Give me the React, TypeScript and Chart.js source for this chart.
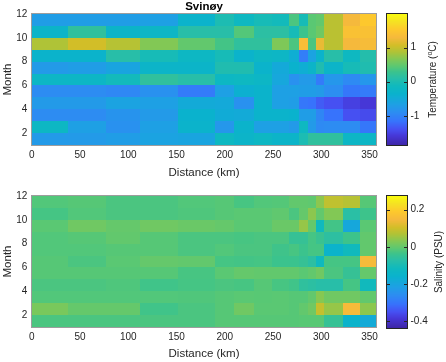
import React, { useEffect, useRef } from 'react';
import { Chart, registerables } from 'chart.js';
Chart.register(...registerables);

const FONT = '"Liberation Sans", Arial, Helvetica, sans-serif';
const AXIS_COLOR = '#262626';

// Cell edges
const distanceEdges = [0, 38, 77, 112, 152, 190, 210, 230, 249, 267, 277, 286, 295, 303, 322, 340, 357];
const monthEdges = [1, 2, 3, 4, 5, 6, 7, 8, 9, 10, 11, 12];

// Tick labels
const xTicks = [0, 50, 100, 150, 200, 250, 300, 350];
const yTicks = [2, 4, 6, 8, 10, 12];
const tempTicks = [-1, 0, 1];
const salTicks = [-0.4, -0.2, 0, 0.2];

// Colour limits
const tempRange = [-1.85, 1.98];
const salRange = [-0.437, 0.274];

// Temperature anomaly (°C): rows month 1 -> 11, columns along distanceEdges
const temperature = [
  [-0.74, -0.74, -0.70, -0.62, -0.59, -0.17, -0.28, -0.20, -0.28, -0.28, -0.01, 0.18, 0.18, 0.18, -0.24, -0.24],
  [-0.20, -0.66, -0.85, -0.66, -0.32, -0.78, -0.32, -0.66, -0.66, -0.74, -0.17, -0.74, -0.93, -0.91, -0.91, -1.12],
  [-0.91, -0.91, -0.82, -0.74, -0.36, -0.47, -0.49, -0.32, -0.32, -0.36, -0.70, -0.70, -0.97, -1.16, -1.39, -1.43],
  [-0.74, -0.74, -0.62, -0.66, -0.49, -0.51, -0.85, -0.32, -0.66, -0.70, -1.12, -1.16, -1.31, -1.39, -1.51, -1.58],
  [-0.91, -0.91, -0.95, -0.85, -1.08, -0.66, -0.39, -0.32, -0.66, -0.66, -0.70, -0.70, -0.74, -0.89, -1.12, -1.08],
  [-0.24, -0.24, -0.09, 0.18, 0.10, -0.20, -0.17, -0.24, -0.55, -0.85, -0.74, -0.74, -1.08, -0.78, -0.93, -0.78],
  [-0.74, -0.70, -0.59, -0.28, -0.28, 0.03, 0.03, -0.32, -0.51, -0.36, -0.43, -0.28, 0.03, -0.28, -0.05, 0.03],
  [-0.32, -0.32, 0.10, -0.05, -0.20, -0.05, -0.32, -0.20, -0.24, -0.43, -1.05, -0.62, -0.32, 0.10, -0.17, 0.07],
  [0.87, 1.06, 0.91, 0.66, 0.49, 0.33, 0.18, 0.18, 0.64, 0.37, 1.37, 0.37, 1.21, 0.93, 1.29, 1.33],
  [-0.28, 0.18, -0.28, -0.24, 0.10, 0.10, 0.41, 0.14, 0.14, -0.05, 0.29, 0.45, 0.56, 0.93, 1.41, 1.41],
  [-0.70, -0.70, -0.70, -0.66, -0.32, 0.00, -0.17, -0.05, -0.09, 0.37, -0.05, 0.45, 0.49, 0.93, 1.29, 1.52],
];

// Salinity anomaly (PSU): rows month 1 -> 11
const salinity = [
  [-0.025, -0.025, -0.025, -0.025, -0.025, -0.014, -0.014, -0.014, -0.014, -0.014, -0.012, -0.012, -0.012, -0.05, -0.153, -0.185],
  [0.02, 0.0, 0.0, -0.035, -0.025, -0.014, 0.011, -0.010, -0.010, -0.014, -0.003, 0.011, 0.089, 0.046, 0.153, 0.037],
  [-0.018, -0.018, -0.018, -0.018, -0.02, -0.014, -0.010, -0.012, -0.010, -0.014, -0.014, -0.003, 0.032, 0.011, 0.011, -0.003],
  [-0.025, -0.025, -0.021, -0.035, -0.03, -0.025, -0.028, -0.014, -0.028, -0.035, -0.06, -0.067, -0.074, -0.074, -0.03, -0.113],
  [-0.014, -0.014, -0.014, -0.014, -0.028, -0.010, 0.0, -0.003, -0.003, -0.003, -0.010, -0.003, 0.011, -0.025, -0.05, 0.0],
  [-0.014, -0.025, -0.010, 0.0, -0.003, -0.03, -0.032, -0.03, -0.04, -0.042, -0.05, -0.067, -0.117, -0.03, -0.03, 0.153],
  [-0.018, -0.018, -0.014, -0.014, -0.025, -0.018, -0.025, -0.025, -0.036, -0.028, -0.04, -0.03, -0.03, -0.153, -0.115, -0.003],
  [-0.018, -0.014, -0.003, -0.014, -0.025, -0.025, -0.028, -0.025, -0.025, -0.05, -0.05, -0.03, -0.045, -0.065, -0.038, -0.003],
  [-0.010, 0.011, 0.0, 0.011, 0.005, 0.0, -0.010, -0.010, 0.005, 0.005, 0.046, 0.0, -0.117, -0.033, -0.195, -0.010],
  [-0.03, -0.018, -0.025, -0.025, -0.021, -0.014, -0.010, -0.010, -0.005, -0.025, 0.0, 0.037, -0.003, 0.029, -0.07, -0.038],
  [-0.018, -0.014, -0.025, -0.025, -0.018, -0.014, -0.028, -0.018, -0.016, -0.003, -0.003, -0.006, 0.037, 0.085, 0.075, -0.014],
];

// parula-like colormap anchors [t, r, g, b]
const PARULA: number[][] = [
  [0.0, 62, 38, 168],
  [0.07, 70, 55, 215],
  [0.12, 70, 80, 242],
  [0.18, 55, 115, 252],
  [0.245, 45, 140, 242],
  [0.31, 30, 160, 228],
  [0.39, 10, 178, 205],
  [0.45, 15, 185, 190],
  [0.51, 40, 190, 168],
  [0.56, 60, 195, 140],
  [0.6, 90, 200, 115],
  [0.655, 130, 200, 85],
  [0.71, 175, 195, 55],
  [0.76, 210, 190, 40],
  [0.82, 245, 185, 60],
  [0.88, 253, 200, 45],
  [0.94, 245, 225, 35],
  [1.0, 249, 251, 14],
];

function colorFor(v: number, range: number[]): string {
  let t = (v - range[0]) / (range[1] - range[0]);
  t = Math.max(0, Math.min(1, t));
  for (let i = 1; i < PARULA.length; i++) {
    const a = PARULA[i - 1];
    const b = PARULA[i];
    if (t <= b[0]) {
      const f = (t - a[0]) / (b[0] - a[0]);
      const r = Math.round(a[1] + (b[1] - a[1]) * f);
      const g = Math.round(a[2] + (b[2] - a[2]) * f);
      const bl = Math.round(a[3] + (b[3] - a[3]) * f);
      return `rgb(${r},${g},${bl})`;
    }
  }
  const l = PARULA[PARULA.length - 1];
  return `rgb(${l[1]},${l[2]},${l[3]})`;
}

function makeHeatmapPlugin(values: number[][], range: number[]) {
  return {
    id: 'heatmapCells',
    afterDatasetsDraw(chart: any) {
      const { ctx, chartArea, scales } = chart;
      const x = scales.x;
      const y = scales.y;
      ctx.save();
      for (let r = 0; r < values.length; r++) {
        const yTop = Math.round(y.getPixelForValue(monthEdges[r + 1]));
        const yBot = Math.round(y.getPixelForValue(monthEdges[r]));
        for (let c = 0; c < values[r].length; c++) {
          const x0 = Math.round(x.getPixelForValue(distanceEdges[c]));
          const x1 = Math.round(x.getPixelForValue(distanceEdges[c + 1]));
          ctx.fillStyle = colorFor(values[r][c], range);
          ctx.fillRect(x0, yTop, x1 - x0, yBot - yTop);
        }
      }
      const L = Math.round(chartArea.left);
      const R = Math.round(chartArea.right);
      const T = Math.round(chartArea.top);
      const B = Math.round(chartArea.bottom);
      ctx.strokeStyle = 'rgba(38,38,38,0.45)';
      ctx.lineWidth = 1;
      ctx.strokeRect(L - 0.5, T - 0.5, R - L + 1, B - T + 1);
      ctx.restore();
    },
  };
}

function makeColorbarPlugin(range: number[], ticks: number[], parts: { text: string; sup?: boolean }[], labelX: number) {
  return {
    id: 'colorbar',
    afterDraw(chart: any) {
      const { ctx, chartArea, scales } = chart;
      const y = scales.y;
      const L = Math.round(chartArea.left);
      const R = Math.round(chartArea.right);
      const T = Math.round(chartArea.top);
      const B = Math.round(chartArea.bottom);
      ctx.save();
      for (let py = T; py < B; py++) {
        const v = y.getValueForPixel(py + 0.5);
        ctx.fillStyle = colorFor(v, range);
        ctx.fillRect(L, py, R - L, 1);
      }
      ctx.strokeStyle = AXIS_COLOR;
      ctx.lineWidth = 1;
      ctx.strokeRect(L - 0.5, T - 0.5, R - L + 1, B - T + 1);
      ctx.beginPath();
      for (const t of ticks) {
        const py = Math.round(y.getPixelForValue(t)) + 0.5;
        ctx.moveTo(R - 3, py);
        ctx.lineTo(R, py);
        ctx.moveTo(L, py);
        ctx.lineTo(L + 3, py);
      }
      ctx.stroke();
      // rotated label, reading bottom-to-top
      const normal = `10px ${FONT}`;
      const small = `7px ${FONT}`;
      let total = 0;
      for (const p of parts) {
        ctx.font = p.sup ? small : normal;
        total += ctx.measureText(p.text).width;
      }
      ctx.translate(labelX, (T + B) / 2);
      ctx.rotate(-Math.PI / 2);
      ctx.fillStyle = AXIS_COLOR;
      ctx.textBaseline = 'middle';
      ctx.textAlign = 'left';
      let cx = -total / 2;
      for (const p of parts) {
        ctx.font = p.sup ? small : normal;
        ctx.fillText(p.text, cx, p.sup ? -3 : 0);
        cx += ctx.measureText(p.text).width;
      }
      ctx.restore();
    },
  };
}

function heatmapConfig(values: number[][], range: number[], title: string | null, topPad: number, xHeight: number): any {
  return {
    type: 'scatter',
    data: { datasets: [] },
    plugins: [makeHeatmapPlugin(values, range)],
    options: {
      responsive: false,
      animation: false,
      devicePixelRatio: 1,
      layout: { padding: { top: topPad, left: 0, right: 5, bottom: 0 } },
      plugins: {
        legend: { display: false },
        tooltip: { enabled: false },
        title: title
          ? {
              display: true,
              text: title,
              fullSize: false,
              color: '#000',
              font: { family: FONT, size: 11.5, weight: 'bold' },
              padding: { top: 0, bottom: 0.2 },
            }
          : { display: false },
      },
      scales: {
        x: {
          type: 'linear',
          min: distanceEdges[0],
          max: distanceEdges[distanceEdges.length - 1],
          afterBuildTicks: (s: any) => {
            s.ticks = xTicks.map((v) => ({ value: v }));
          },
          afterFit: (s: any) => {
            s.height = xHeight;
          },
          grid: { display: false, drawTicks: false },
          border: { display: false },
          ticks: {
            color: AXIS_COLOR,
            font: { family: FONT, size: 10 },
            padding: 4,
            maxRotation: 0,
            autoSkip: false,
            callback: (v: any) => String(v),
          },
          title: {
            display: true,
            text: 'Distance (km)',
            color: AXIS_COLOR,
            font: { family: FONT, size: 11.5 },
            padding: { top: 0, bottom: 1.5 },
          },
        },
        y: {
          type: 'linear',
          min: monthEdges[0],
          max: monthEdges[monthEdges.length - 1],
          afterBuildTicks: (s: any) => {
            s.ticks = yTicks.map((v) => ({ value: v }));
          },
          afterFit: (s: any) => {
            s.width = 31.7;
          },
          grid: { display: false, drawTicks: false },
          border: { display: false },
          ticks: {
            color: AXIS_COLOR,
            font: { family: FONT, size: 10 },
            padding: 4.4,
            autoSkip: false,
            callback: (v: any) => String(v),
          },
          title: {
            display: true,
            text: 'Month',
            color: AXIS_COLOR,
            font: { family: FONT, size: 11.5 },
            padding: { top: 0.6, bottom: 0 },
          },
        },
      },
    },
  };
}

function colorbarConfig(range: number[], ticks: number[], parts: any[], labelX: number, topPad: number, bottomPad: number): any {
  return {
    type: 'scatter',
    data: { datasets: [] },
    plugins: [makeColorbarPlugin(range, ticks, parts, labelX)],
    options: {
      responsive: false,
      animation: false,
      devicePixelRatio: 1,
      layout: { padding: { top: topPad, left: 7, right: 0, bottom: bottomPad } },
      plugins: { legend: { display: false }, tooltip: { enabled: false }, title: { display: false } },
      scales: {
        x: { type: 'linear', display: false, min: 0, max: 1 },
        y: {
          type: 'linear',
          position: 'right',
          min: range[0],
          max: range[1],
          afterBuildTicks: (s: any) => {
            s.ticks = ticks.map((v) => ({ value: v }));
          },
          afterFit: (s: any) => {
            s.width = 39.5;
          },
          grid: { display: false, drawTicks: false },
          border: { display: false },
          ticks: {
            color: AXIS_COLOR,
            font: { family: FONT, size: 10 },
            padding: 4,
            autoSkip: false,
            callback: (v: any) => String(v),
          },
        },
      },
    },
  };
}

function ChartCanvas({ config, left, top, width, height }: any) {
  const ref = useRef<HTMLCanvasElement | null>(null);
  useEffect(() => {
    if (!ref.current) return;
    const chart = new Chart(ref.current, config());
    return () => chart.destroy();
  }, []);
  return (
    <canvas
      ref={ref}
      width={width}
      height={height}
      style={{ position: 'absolute', left, top, width, height }}
    />
  );
}

export default function App() {
  return (
    <div style={{ position: 'fixed', left: 0, top: 0, width: 446, height: 362, background: '#fff', overflow: 'hidden' }}>
      <ChartCanvas
        left={0}
        top={0}
        width={382}
        height={181}
        config={() => heatmapConfig(temperature, tempRange, 'Svinøy', 0, 36)}
      />
      <ChartCanvas
        left={380}
        top={0}
        width={66}
        height={181}
        config={() =>
          colorbarConfig(tempRange, tempTicks, [{ text: 'Temperature (' }, { text: 'o', sup: true }, { text: 'C)' }], 53.3, 14, 36)
        }
      />
      <ChartCanvas
        left={0}
        top={181}
        width={382}
        height={181}
        config={() => heatmapConfig(salinity, salRange, null, 15, 35)}
      />
      <ChartCanvas
        left={380}
        top={181}
        width={66}
        height={181}
        config={() => colorbarConfig(salRange, salTicks, [{ text: 'Salinity (PSU)' }], 59.5, 15, 34.3)}
      />
    </div>
  );
}
